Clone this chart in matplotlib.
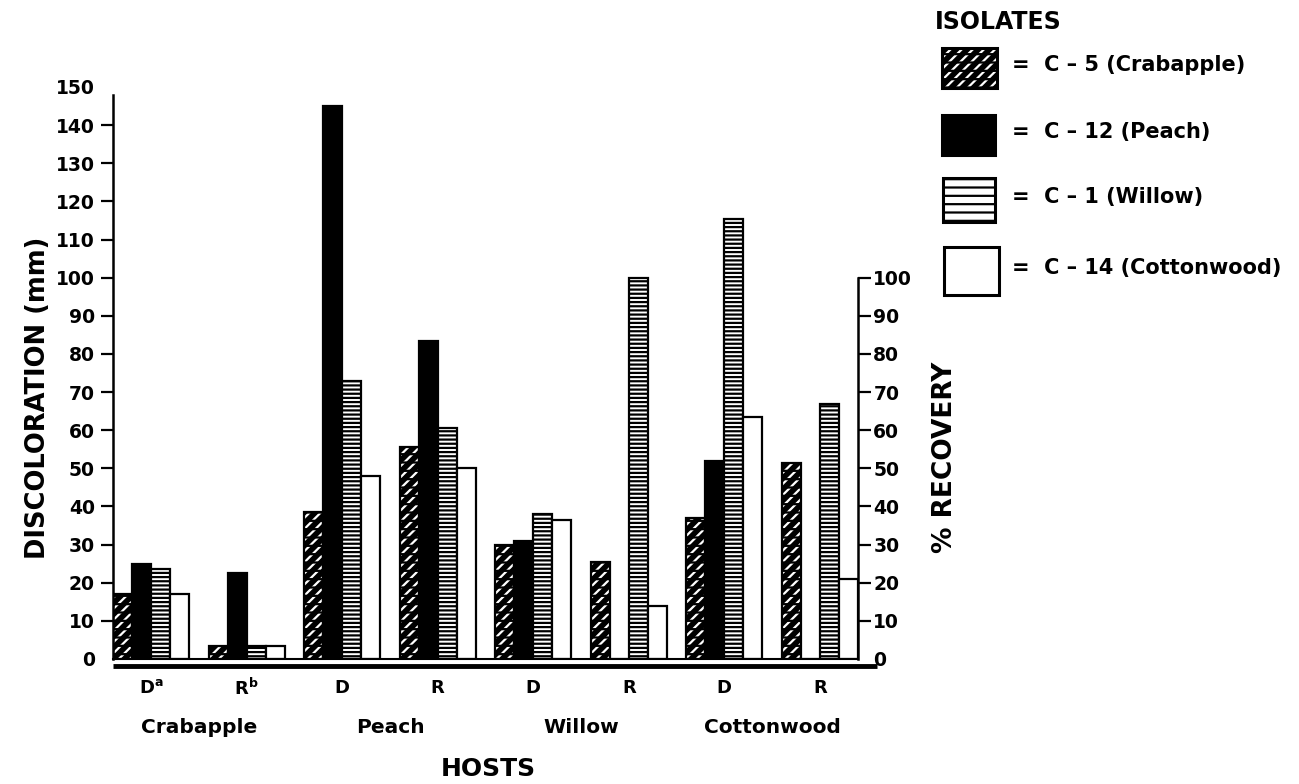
import matplotlib
matplotlib.use("Agg")
import matplotlib.pyplot as plt
import matplotlib.transforms as mtransforms
from matplotlib.patches import Rectangle
import numpy as np

# ---- data ----
categories = ["D$^a$", "R$^b$", "D", "R", "D", "R", "D", "R"]
hosts = ["Crabapple", "Peach", "Willow", "Cottonwood"]
isolates = ["C – 5 (Crabapple)", "C – 12 (Peach)", "C – 1 (Willow)", "C – 14 (Cottonwood)"]
c5 = [17, 3.5, 38.5, 55.5, 30, 25.5, 37, 51.5]
c12 = [25, 22.5, 145, 83.5, 31, 0, 52, 0]
c1 = [23.5, 3.5, 73, 60.5, 38, 100, 115.5, 67]
c14 = [17, 3.5, 48, 50, 36.5, 14, 63.5, 21]
left_ticks = list(range(10, 141, 10))   # ticks with marks
left_ends = [0, 150]                    # labelled, no mark
right_ticks = list(range(10, 101, 10))
right_ends = [0]

plt.rcParams["font.family"] = "DejaVu Sans"
plt.rcParams["font.weight"] = "bold"
plt.rcParams["mathtext.default"] = "bf"
plt.rcParams["hatch.linewidth"] = 1.6

W, H = 1299, 784
TICK_LEN, TICK_W = 9, 1.6


def add_layers(add, kind, lw=1.6, lines="----"):
    """Draw one bar/box in layers so that the patterns look like the print."""
    if kind == "dots":
        add(facecolor="black", edgecolor="black", linewidth=0)
        add(facecolor="none", edgecolor="white", hatch="///", linewidth=0)
        add(facecolor="none", edgecolor="black", hatch="--", linewidth=0)
    elif kind == "solid":
        add(facecolor="black", edgecolor="black", linewidth=0)
    elif kind == "lines":
        add(facecolor="white", edgecolor="black", hatch=lines, linewidth=0)
    else:
        add(facecolor="white", edgecolor="black", linewidth=0)
    add(facecolor="none", edgecolor="black", linewidth=lw)


fig = plt.figure(figsize=(W / 100, H / 100), dpi=100)
ax = fig.add_axes([113 / W, (H - 659) / H, 745 / W, 572 / H])

series = [c5, c12, c1, c14]
kinds = ["dots", "solid", "lines", "open"]
x = np.arange(len(categories))
bw = 0.2
for j, (vals, kind) in enumerate(zip(series, kinds)):
    xs = x - 0.3 + j * bw
    add_layers(lambda **kw: ax.bar(xs, vals, bw, **kw), kind)

ax.set_xlim(-0.4, 7.4)
ax.set_ylim(0, 150)
ax.set_xticks([])
ax.set_yticks(left_ticks)
ax.set_yticks(left_ends, minor=True)
ax.set_yticklabels([str(v) for v in left_ends], minor=True)
ax.tick_params(axis="y", which="major", direction="out", length=TICK_LEN,
               width=TICK_W, pad=4, labelsize=13.5)
ax.tick_params(axis="y", which="minor", length=0, pad=4 + TICK_LEN, labelsize=13.5)
for lab in ax.get_yticklabels(which="both"):
    lab.set_fontweight("bold")
for s in ["top", "right"]:
    ax.spines[s].set_visible(False)
ax.spines["left"].set_bounds(0, 148)
ax.spines["left"].set_linewidth(1.8)
ax.spines["bottom"].set_linewidth(1.5)

# heavy double base line
ax.plot([-0.4, 7.6], [-1.8, -1.8], color="black", lw=3.5, clip_on=False,
        solid_capstyle="butt")

# right axis: % recovery
ax2 = ax.twinx()
ax2.set_ylim(ax.get_ylim())
ax2.set_yticks(right_ticks)
ax2.set_yticks(right_ends, minor=True)
ax2.set_yticklabels([str(v) for v in right_ends], minor=True)
ax2.tick_params(axis="y", which="major", direction="out", length=TICK_LEN,
                width=TICK_W, pad=2, labelsize=13.5)
ax2.tick_params(axis="y", which="minor", length=0, pad=2 + TICK_LEN, labelsize=13.5)
for lab in ax2.get_yticklabels(which="both"):
    lab.set_fontweight("bold")
for s in ["top", "left", "bottom"]:
    ax2.spines[s].set_visible(False)
ax2.spines["right"].set_bounds(0, 100)
ax2.spines["right"].set_linewidth(1.8)

# category and host labels
trans = mtransforms.blended_transform_factory(ax.transData, ax.transAxes)
for xi, lab in zip(x, categories):
    ax.text(xi, -0.051, lab, transform=trans, ha="center", va="center",
            fontsize=13, fontweight="bold")
for k, host in enumerate(hosts):
    ax.text(2 * k + 0.5, -0.119, host, transform=trans, ha="center", va="center",
            fontsize=14.5, fontweight="bold")

fig.text(488 / W, 1 - 769 / H, "HOSTS", ha="center", va="center",
         fontsize=18, fontweight="bold")
fig.text(38 / W, 1 - 398 / H, "DISCOLORATION (mm)", rotation=90, ha="center",
         va="center", fontsize=18.5, fontweight="bold")
fig.text(945 / W, 1 - 457 / H, "% RECOVERY", rotation=90, ha="center",
         va="center", fontsize=19, fontweight="bold")

# legend drawn by hand in pixel space
lax = fig.add_axes([0, 0, 1, 1])
lax.set_xlim(0, W)
lax.set_ylim(H, 0)
lax.axis("off")
lax.text(998, 22, "ISOLATES", ha="center", va="center", fontsize=17,
         fontweight="bold")
boxes = [(942, 48, 55, 40), (942, 115, 53, 40), (943, 178, 52, 44), (944, 247, 55, 48)]
text_y = [65, 132, 197, 268]
for (bx, by, bwid, bh), kind, ty, name in zip(boxes, kinds, text_y, isolates):
    def add(**kw):
        lax.add_patch(Rectangle((bx, by), bwid, bh, **kw))
    add_layers(add, kind, lw=2.2, lines="--")
    lax.text(1012, ty, "=  " + name, ha="left", va="center", fontsize=15,
             fontweight="bold")

fig.savefig("out.png", dpi=100)
